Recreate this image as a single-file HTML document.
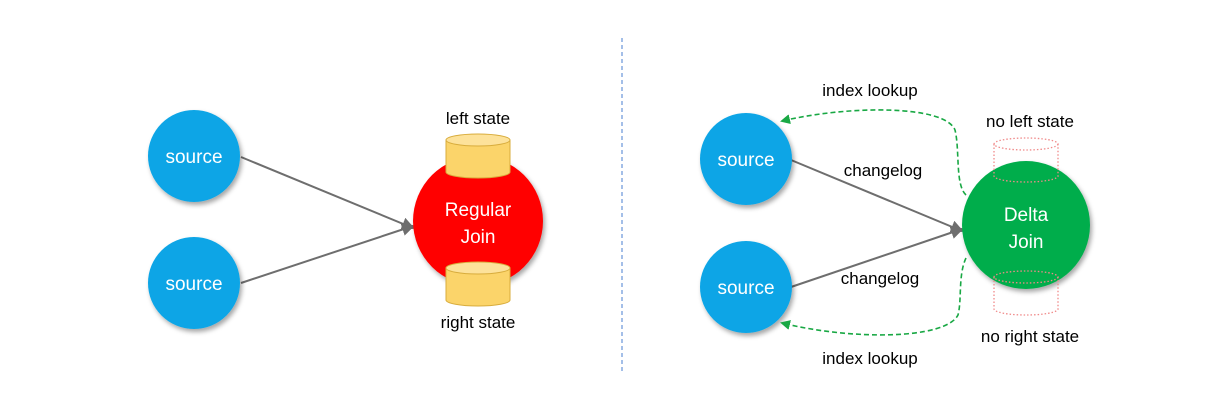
<!DOCTYPE html>
<html><head><meta charset="utf-8"><style>
html,body{margin:0;padding:0;background:#fff;}
svg{display:block;font-family:"Liberation Sans",sans-serif;}
</style></head><body>
<svg width="1219" height="409" viewBox="0 0 1219 409" xmlns="http://www.w3.org/2000/svg">
<defs>
<marker id="ga" markerWidth="13" markerHeight="13" refX="11" refY="6.5" orient="auto" markerUnits="userSpaceOnUse"><path d="M0,0 L13,6.5 L0,13 z" fill="#6e6e6e"/></marker>
<marker id="gr" markerWidth="10" markerHeight="10" refX="8" refY="5" orient="auto" markerUnits="userSpaceOnUse"><path d="M0,0 L10,5 L0,10 z" fill="#19a844"/></marker>
<filter id="sh" x="-20%" y="-20%" width="150%" height="150%"><feDropShadow dx="2" dy="3" stdDeviation="2.5" flood-color="#000" flood-opacity="0.35"/></filter>
</defs>
<line x1="622" y1="38" x2="622" y2="372" stroke="#4a7fd0" stroke-width="1" stroke-dasharray="4,3"/>
<line x1="241" y1="157" x2="413" y2="228" stroke="#6e6e6e" stroke-width="2" marker-end="url(#ga)"/>
<line x1="241" y1="283" x2="413" y2="226" stroke="#6e6e6e" stroke-width="2" marker-end="url(#ga)"/>
<circle cx="194" cy="156" r="46" fill="#0aa5e6" filter="url(#sh)"/>
<circle cx="194" cy="283" r="46" fill="#0aa5e6" filter="url(#sh)"/>
<text x="194" y="163" font-size="19" fill="#fff" text-anchor="middle">source</text>
<text x="194" y="290" font-size="19" fill="#fff" text-anchor="middle">source</text>
<circle cx="478" cy="221" r="65" fill="#ff0000" filter="url(#sh)"/>
<text x="478" y="216" font-size="19" fill="#fff" text-anchor="middle">Regular</text>
<text x="478" y="243" font-size="19" fill="#fff" text-anchor="middle">Join</text>
<g fill="#fbd46a" stroke="#d8ac3c" stroke-width="1">
<path d="M446,140 L446,172 A32,6 0 0 0 510,172 L510,140 Z"/>
<ellipse cx="478" cy="140" rx="32" ry="6" fill="#fde29a"/>
<path d="M446,268 L446,300 A32,6 0 0 0 510,300 L510,268 Z"/>
<ellipse cx="478" cy="268" rx="32" ry="6" fill="#fde29a"/>
</g>
<text x="478" y="124" font-size="17" fill="#000" text-anchor="middle">left state</text>
<text x="478" y="328" font-size="17" fill="#000" text-anchor="middle">right state</text>
<line x1="791" y1="160" x2="962" y2="231" stroke="#6e6e6e" stroke-width="2" marker-end="url(#ga)"/>
<line x1="791" y1="287" x2="962" y2="229" stroke="#6e6e6e" stroke-width="2" marker-end="url(#ga)"/>
<circle cx="746" cy="159" r="46" fill="#0aa5e6" filter="url(#sh)"/>
<circle cx="746" cy="287" r="46" fill="#0aa5e6" filter="url(#sh)"/>
<text x="746" y="166" font-size="19" fill="#fff" text-anchor="middle">source</text>
<text x="746" y="294" font-size="19" fill="#fff" text-anchor="middle">source</text>
<circle cx="1026" cy="225" r="64" fill="#00ad4c" filter="url(#sh)"/>
<text x="1026" y="221" font-size="19" fill="#fff" text-anchor="middle">Delta</text>
<text x="1026" y="248" font-size="19" fill="#fff" text-anchor="middle">Join</text>
<g fill="none" stroke="#f08a8a" stroke-width="1.3" stroke-dasharray="1.5,2">
<ellipse cx="1026" cy="144" rx="32" ry="6"/>
<path d="M994,144 L994,176 A32,6 0 0 0 1058,176 L1058,144"/>
<ellipse cx="1026" cy="277" rx="32" ry="6"/>
<path d="M994,277 L994,309 A32,6 0 0 0 1058,309 L1058,277"/>
</g>
<path d="M966,195 C955,185 960,150 955,130 C945,105 850,105 782,121" fill="none" stroke="#19a844" stroke-width="1.6" stroke-dasharray="5,3" marker-end="url(#gr)"/>
<path d="M966,258 C958,275 962,300 958,315 C945,340 850,340 782,323" fill="none" stroke="#19a844" stroke-width="1.6" stroke-dasharray="5,3" marker-end="url(#gr)"/>
<text x="870" y="96" font-size="17" fill="#000" text-anchor="middle">index lookup</text>
<text x="870" y="364" font-size="17" fill="#000" text-anchor="middle">index lookup</text>
<text x="883" y="176" font-size="17" fill="#000" text-anchor="middle">changelog</text>
<text x="880" y="284" font-size="17" fill="#000" text-anchor="middle">changelog</text>
<text x="1030" y="127" font-size="17" fill="#000" text-anchor="middle">no left state</text>
<text x="1030" y="342" font-size="17" fill="#000" text-anchor="middle">no right state</text>
</svg>
</body></html>
